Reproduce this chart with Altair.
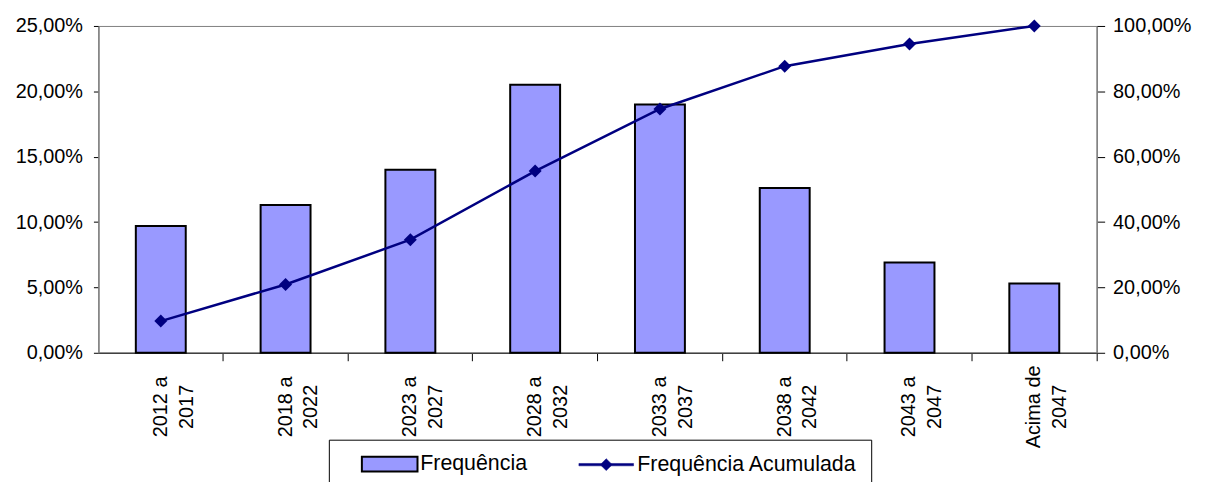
import altair as alt
import pandas as pd

categorias = ["2012 a 2017", "2018 a 2022", "2023 a 2027", "2028 a 2032",
              "2033 a 2037", "2038 a 2042", "2043 a 2047", "Acima de 2047"]
frequencia = [9.7, 11.3, 14.0, 20.5, 19.0, 12.6, 6.9, 5.3]
acumulada = [9.7, 20.9, 34.6, 55.6, 74.6, 87.7, 94.5, 100.0]
series = ["Frequência", "Frequência Acumulada"]
cores = ["#9999FF", "#000080"]

df = pd.DataFrame({"cat": categorias, "freq": frequencia, "acum": acumulada,
                   "serie": series[1]})

FONT = "Liberation Sans, Arial"

x = alt.X("cat:N", sort=categorias, title=None,
          scale=alt.Scale(paddingInner=0.6, paddingOuter=0.3),
          axis=alt.Axis(labelAngle=270, labelAlign="center", labelBaseline="middle",
                        labelLineHeight=26, labelPadding=46, tickSize=8,
                        bandPosition=1.75, tickExtra=False,
                        domainColor="#404040", tickColor="#000000",
                        labelExpr="[slice(datum.label, 0, lastindexof(datum.label, ' ')), "
                                  "slice(datum.label, lastindexof(datum.label, ' ') + 1)]"))

bars = alt.Chart(df).mark_bar(fill="#9999FF", stroke="#000000", strokeWidth=2).encode(
    x=x,
    y=alt.Y("freq:Q", title=None,
            scale=alt.Scale(domain=[0, 25], nice=False),
            axis=alt.Axis(values=[0, 5, 10, 15, 20, 25], tickSize=5, labelPadding=11,
                          grid=False, domainColor="#808080", tickColor="#000000",
                          labelExpr="replace(format(datum.value, '.2f'), '.', ',') + '%'")),
)

y2 = alt.Y("acum:Q", title=None,
           scale=alt.Scale(domain=[0, 100], nice=False),
           axis=alt.Axis(orient="right", values=[0, 20, 40, 60, 80, 100], tickSize=8,
                         labelPadding=8, grid=False, domainColor="#808080",
                         tickColor="#000000",
                         labelExpr="replace(format(datum.value, '.2f'), '.', ',') + '%'"))

line = alt.Chart(df).mark_line(color="#000080", strokeWidth=2.5).encode(x=x, y=y2)

rect_path = "M0.9,-0.75 L6.5,-0.75 L6.5,0.75 L0.9,0.75 Z"
line_path = ("M0.9,-0.12 L6.4,-0.12 L6.4,0.12 L0.9,0.12 Z "
             "M3.05,0 L3.65,-0.6 L4.25,0 L3.65,0.6 Z")

points = alt.Chart(df).mark_point(filled=True, shape="diamond", size=170, opacity=1).encode(
    x=x, y=y2,
    color=alt.Color("serie:N", scale=alt.Scale(domain=series, range=cores),
                    legend=alt.Legend(
                        title=None, orient="none", direction="horizontal",
                        legendX=232, legendY=416.5, padding=13.5,
                        strokeColor="#000000", fillColor="#FFFFFF", cornerRadius=0,
                        labelFont=FONT, labelFontSize=21.5, labelColor="#000000",
                        labelLimit=500,
                        labelOffset=57, columnPadding=31.5, symbolSize=400,
                        symbolType={"expr": f"datum.value === 'Frequência' ? '{rect_path}' : '{line_path}'"},
                        symbolStrokeColor={"expr": "datum.value === 'Frequência' ? '#000000' : '#000080'"},
                        symbolStrokeWidth={"expr": "datum.value === 'Frequência' ? 2 : 0.5"},
                    )),
)

chart = alt.layer(bars, alt.layer(line, points)).resolve_scale(y="independent").properties(
    width=1005, height=329,
    padding={"left": 91, "top": 16.5, "right": 103, "bottom": 128.5},
    autosize=alt.AutoSizeParams(type="none"),
    background="#FFFFFF",
).configure_view(stroke="#808080", strokeWidth=1).configure_axis(
    labelFont=FONT, labelFontSize=20, labelColor="#000000", domainWidth=1.5,
)

chart.save("out.html", embed_options={"renderer": "svg", "actions": False})
